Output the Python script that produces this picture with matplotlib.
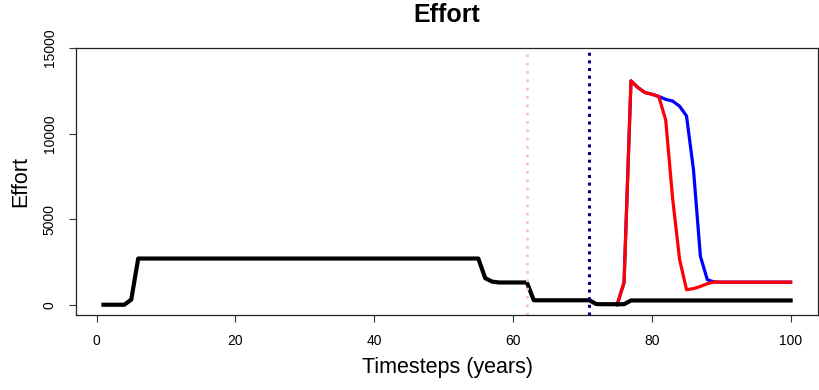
import numpy as np
import matplotlib.pyplot as plt

plt.rcParams['font.family'] = ['Liberation Sans', 'DejaVu Sans']

years = np.arange(1, 101)

# baseline effort (black), one value per timestep
base_effort = ([0, 0, 0, 0, 300] + [2700] * 50 + [1550, 1350, 1300, 1300, 1300, 1300, 1300]
               + [260] * 9 + [40, 30, 30, 30, 30] + [250] * 24)

# scenarios starting at timestep 75
scen_years = np.arange(75, 101)
red_effort = ([0, 1300, 13080, 12690, 12400, 12300, 12170, 10800, 6200, 2650, 880, 940,
               1070, 1230, 1330] + [1320] * 11)
blue_effort = ([0, 1300, 13080, 12690, 12400, 12300, 12170, 12000, 11900, 11600, 11030,
                7900, 2830, 1460, 1330] + [1320] * 11)

pink_line = 62
navy_line = 71

fig = plt.figure(figsize=(8.2, 3.9), dpi=100)
ax = fig.add_axes([0.0927, 0.1923, 0.905, 0.6846])

ax.plot(scen_years, blue_effort, color='blue', lw=2.3)
ax.plot(scen_years, red_effort, color='red', lw=2.3)
ax.plot(years, base_effort, color='black', lw=3)
ax.axvline(pink_line, color='pink', lw=2, ls=(0, (1, 2)))
ax.axvline(navy_line, color='navy', lw=2.2, ls=(0, (1, 1.5)))

ax.set_xlim(-2.96, 103.96)
ax.set_ylim(-600, 15000)
ax.set_xticks([0, 20, 40, 60, 80, 100])
ax.set_yticks([0, 5000, 10000, 15000])
ax.tick_params(labelsize=10, length=5, width=0.8, color='#333333', pad=9)
for lab in ax.get_yticklabels():
    lab.set_rotation(90)
    lab.set_va('center')
for s in ax.spines.values():
    s.set_linewidth(0.9)
    s.set_color('#222222')

ax.set_title('Effort', fontsize=18, fontweight='bold', pad=19)
ax.set_xlabel('Timesteps (years)', fontsize=15.5, labelpad=6)
ax.set_ylabel('Effort', fontsize=15.5, labelpad=8)

fig.savefig('out.png', dpi=100)
